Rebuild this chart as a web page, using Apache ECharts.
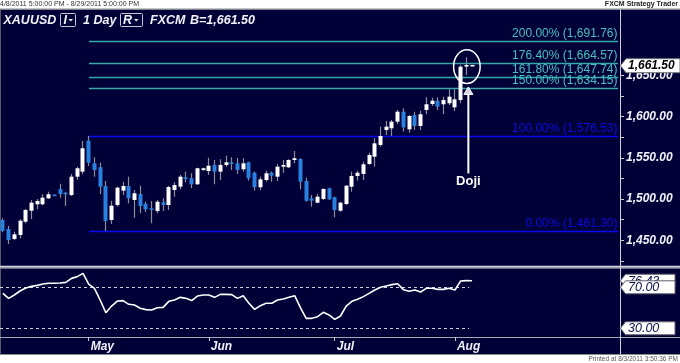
<!DOCTYPE html>
<html>
<head>
<meta charset="utf-8">
<script src="https://cdn.jsdelivr.net/npm/echarts/dist/echarts.min.js"></script>
<style>
  html, body { margin: 0; padding: 0; background: #ffffff; }
  #chart { width: 680px; height: 363px; }
</style>
</head>
<body>
<div id="chart"></div>
<script>
// ---------------- DATA ----------------
const dates = [
  '4/8','4/11','4/12','4/13','4/14','4/15','4/18','4/19','4/20','4/21','4/25','4/26','4/27','4/28','4/29',
  '5/2','5/3','5/4','5/5','5/6','5/9','5/10','5/11','5/12','5/13','5/16','5/17','5/18','5/19','5/20','5/23','5/24','5/25','5/26','5/27','5/31',
  '6/1','6/2','6/3','6/6','6/7','6/8','6/9','6/10','6/13','6/14','6/15','6/16','6/17','6/20','6/21','6/22','6/23','6/24','6/27','6/28','6/29','6/30',
  '7/1','7/4','7/5','7/6','7/7','7/8','7/11','7/12','7/13','7/14','7/15','7/18','7/19','7/20','7/21','7/22','7/25','7/26','7/27','7/28','7/29',
  '8/1','8/2','8/3','8/4'
];
const opens = [1474.7,1463.8,1451.6,1456.5,1472.6,1485.9,1493.7,1493.7,1500.9,1504.9,
  1512.2,1507.7,1504.9,1527.1,1533.2,1570.7,1543.3,1538.5,1515.8,1474.7,
  1492.8,1510.2,1515.8,1498.9,1506.1,1494.0,1488.8,1485.6,1496.1,1492.8,
  1511.0,1515.0,1526.4,1525.2,1517.9,1535.2,1534.0,1541.3,1533.2,1541.3,
  1544.5,1543.3,1536.1,1544.5,1531.9,1514.3,1523.1,1531.9,1527.1,1539.2,
  1538.5,1547.3,1548.5,1521.9,1500.9,1495.6,1500.1,1513.0,1502.2,1485.9,
  1494.0,1515.0,1528.0,1530.4,1542.5,1551.3,1565.5,1583.7,1585.7,1593.7,
  1605.8,1584.5,1601.8,1588.5,1607.9,1615.1,1619.1,1614.8,1616.0,1611.1,
  1620.0,1661.0,1661.5];
const closes = [1461.3,1450.4,1457.3,1473.8,1486.8,1495.6,1497.7,1501.7,1505.8,1504.1,
  1506.1,1505.8,1527.1,1537.3,1561.5,1544.0,1535.2,1515.0,1473.4,1492.0,
  1513.8,1515.8,1500.9,1507.0,1491.6,1487.6,1486.8,1496.8,1492.8,1514.6,
  1517.0,1527.1,1524.3,1517.9,1537.3,1537.3,1540.4,1533.2,1541.3,1544.5,
  1542.5,1535.2,1543.3,1525.2,1514.3,1523.9,1531.2,1528.3,1539.2,1541.3,
  1547.3,1549.4,1521.0,1498.0,1498.0,1502.9,1512.2,1499.7,1486.8,1495.6,
  1516.2,1528.0,1531.9,1542.1,1553.4,1567.5,1576.4,1587.7,1593.7,1605.8,
  1586.9,1600.6,1588.5,1602.7,1614.8,1619.1,1611.9,1620.0,1624.0,1620.8,
  1660.3,1661.8,1661.5];
const lows = [1459.8,1445.6,1450.4,1452.5,1470.7,1475.9,1487.6,1492.5,1500.1,1503.5,
  1501.7,1491.6,1503.7,1523.1,1530.0,1540.1,1527.1,1505.8,1461.3,1469.8,
  1490.8,1504.9,1494.9,1477.5,1482.8,1484.4,1470.7,1482.8,1485.6,1486.8,
  1502.9,1511.8,1520.3,1513.1,1517.0,1534.0,1529.2,1517.9,1523.1,1539.2,
  1535.2,1530.4,1533.2,1522.3,1510.2,1511.0,1521.0,1521.0,1521.9,1531.9,
  1537.6,1543.3,1511.8,1496.8,1490.8,1494.9,1498.9,1498.9,1478.0,1484.7,
  1492.8,1508.9,1522.3,1523.1,1541.3,1539.2,1563.4,1577.6,1576.4,1590.9,
  1581.6,1580.4,1583.7,1583.7,1602.7,1612.7,1607.9,1602.7,1613.9,1606.7,
  1616.0,1650.3,1661.2];
const highs = [1476.7,1467.4,1460.5,1475.5,1488.0,1498.9,1500.1,1505.8,1508.9,1505.5,
  1518.6,1508.9,1530.4,1539.2,1570.3,1576.5,1550.6,1544.0,1521.9,1498.0,
  1515.0,1521.0,1527.1,1511.0,1516.2,1496.8,1497.7,1498.9,1500.9,1515.8,
  1520.3,1529.2,1533.2,1531.2,1538.0,1538.0,1550.1,1547.3,1548.2,1552.5,
  1550.6,1549.8,1549.4,1545.3,1533.2,1527.1,1534.4,1533.2,1542.5,1547.3,
  1548.2,1558.2,1549.4,1525.9,1504.9,1506.1,1513.0,1514.0,1502.9,1496.8,
  1517.0,1533.2,1534.4,1545.3,1556.2,1573.6,1587.7,1594.6,1595.8,1607.9,
  1609.9,1601.8,1605.8,1607.0,1623.3,1622.8,1623.3,1624.0,1633.0,1633.0,
  1662.4,1671.7,1661.8];
const rsi = [64.1,59.2,62.5,66.4,69.3,70.9,71.9,73.2,73.9,73.9,
  74.2,74.8,78.7,80.4,83.6,73.2,69.0,57.6,45.2,51.7,
  56.6,57.0,53.4,52.7,49.5,48.2,47.8,50.1,50.4,56.3,
  57.6,60.2,59.2,57.0,61.5,62.5,62.5,60.2,63.1,63.1,
  62.8,59.2,61.8,54.4,48.5,52.1,54.4,54.4,57.6,58.6,
  60.2,61.8,50.1,39.7,39.7,41.3,45.6,43.0,38.7,42.0,
  51.7,56.3,58.3,60.9,64.1,67.4,70.0,71.3,72.6,73.5,
  67.7,66.1,67.4,65.4,69.0,69.0,68.0,68.0,69.0,67.4,
  76.1,76.5,76.43];
const fibPct = ['200.00%','176.40%','161.80%','150.00%','100.00%','0.00%'];
const fibVal = [1691.76, 1664.57, 1647.74, 1634.15, 1576.53, 1461.30];
const fibStartDate = '5/2';
const rsiLevels = [70, 30];
const lastPrice = 1661.50;
const lastRsi = 76.43;
const dojiDate = '8/3';
const monthNames = {'5':'May','6':'Jun','7':'Jul','8':'Aug'};
const symbolText = 'XAUUSD';
const periodText = '1 Day';
const brokerText = 'FXCM';

// ---------------- BUILD ----------------
const PAD = 25;
const CATS = dates.concat(Array.from({length: PAD}, (_, i) => 'pad' + i));
const NAVY = '#010138';
const FONT = "'Liberation Sans', Arial, sans-serif";
const monthOf = d => d.split('/')[0];
const isMonthStart = i => i > 0 && i < dates.length && monthOf(dates[i]) !== monthOf(dates[i - 1]);
const fmt2 = v => v.toFixed(2).replace(/\B(?=(\d{3})+(?!\d))/, ',');

const candleData = dates.map((d, i) => [i, opens[i], closes[i], lows[i], highs[i]]);
const fibStart = dates.indexOf(fibStartDate);
const fibData = fibVal.map((v, i) => [fibStart, v, i]);
const lastIdx = dates.length - 1;

const chart = echarts.init(document.getElementById('chart'), null, {renderer: 'canvas'});

const option = {
  backgroundColor: '#ffffff',
  animation: false,
  grid: [
    {left: 0, width: 618, top: 75.2, height: 185.8},
    {left: 0, width: 618, top: 269, height: 68}
  ],
  xAxis: [
    {type: 'category', gridIndex: 0, data: CATS, show: false, boundaryGap: true},
    {type: 'category', gridIndex: 1, data: CATS, boundaryGap: true,
      axisLine: {show: false},
      axisTick: {show: true, alignWithLabel: true, interval: (i) => isMonthStart(i), length: 4,
        lineStyle: {color: '#c8c8c8', width: 1}},
      axisLabel: {interval: (i) => isMonthStart(i), formatter: (v) => monthNames[monthOf(v)] || '',
        align: 'left', margin: 4, color: '#f2f2fa', fontStyle: 'italic', fontWeight: 'bold',
        fontSize: 12, fontFamily: FONT, padding: [0, 0, 0, 2]},
      splitLine: {show: false}}
  ],
  yAxis: [
    {type: 'value', gridIndex: 0, position: 'right', offset: 2, min: 1425, max: 1650, interval: 25,
      axisLine: {show: false},
      axisTick: {show: true, length: 4, lineStyle: {color: '#c8c8c8'}},
      axisLabel: {formatter: v => (v % 50 === 0 && v >= 1450) ? fmt2(v) : '',
        margin: 6, color: '#f2f2fa', fontStyle: 'italic', fontWeight: 'bold', fontSize: 12, fontFamily: FONT},
      splitLine: {show: false}},
    {type: 'value', gridIndex: 1, min: 21.5, max: 87.85, show: false, splitLine: {show: false}}
  ],
  series: [
    {
      name: 'fib', type: 'custom', xAxisIndex: 0, yAxisIndex: 0, clip: false, z: 2,
      data: fibData,
      renderItem: function (params, api) {
        const v = api.value(1), k = api.value(2);
        const p = api.coord([api.value(0), v]);
        const cs = params.coordSys;
        const x2 = cs.x + cs.width;
        const y = Math.round(p[1]) + 0.5;
        const teal = k < 4;
        const lc = teal ? '#36a9a9' : '#0a0af0';
        const tc = teal ? '#48c0c0' : '#0a0ae0';
        return {type: 'group', children: [
          {type: 'line', shape: {x1: Math.round(p[0]), y1: y, x2: x2, y2: y},
            style: {stroke: lc, lineWidth: 1.3}},
          {type: 'text', style: {text: fibPct[k] + ' (' + fmt2(v) + ')', x: x2 - 0.5, y: y - 1.5,
            fill: tc, font: '12px ' + FONT, align: 'right', verticalAlign: 'bottom',
            textAlign: 'right', textVerticalAlign: 'bottom'}}
        ]};
      }
    },
    {
      name: 'candles', type: 'custom', xAxisIndex: 0, yAxisIndex: 0, clip: false, z: 3,
      data: candleData,
      encode: {x: 0, y: [1, 2, 3, 4]},
      renderItem: function (params, api) {
        const i = api.value(0), o = api.value(1), c = api.value(2), l = api.value(3), h = api.value(4);
        const pO = api.coord([i, o]), pC = api.coord([i, c]), pL = api.coord([i, l]), pH = api.coord([i, h]);
        const cx = Math.round(pO[0] - 0.5);
        let top = Math.min(pO[1], pC[1]), bot = Math.max(pO[1], pC[1]);
        if (bot - top < 1.5) { const m = (top + bot) / 2; top = m - 0.8; bot = m + 0.8; }
        const up = c >= o;
        return {type: 'group', children: [
          {type: 'line', shape: {x1: cx + 0.5, y1: pH[1], x2: cx + 0.5, y2: pL[1]},
            style: {stroke: '#8e8e98', lineWidth: 1.2}},
          {type: 'rect', shape: {x: cx - 1.5, y: top, width: 4, height: bot - top},
            style: {fill: up ? '#ffffff' : '#2a80de'}}
        ]};
      }
    },
    {
      name: 'levels', type: 'custom', xAxisIndex: 1, yAxisIndex: 1, clip: false, z: 2,
      data: rsiLevels.map(v => [0, v]),
      renderItem: function (params, api) {
        const p = api.coord([lastIdx - 1, api.value(1)]);
        const q = api.coord([lastIdx, api.value(1)]);
        const cs = params.coordSys;
        const y = Math.round(p[1]) + 0.5;
        return {type: 'line', shape: {x1: cs.x, y1: y, x2: (p[0] + q[0]) / 2, y2: y},
          style: {stroke: '#d0d0d8', lineWidth: 1, lineDash: [3, 3]}};
      }
    },
    {
      name: 'RSI', type: 'line', xAxisIndex: 1, yAxisIndex: 1, data: rsi, z: 4,
      symbol: 'none', smooth: false,
      lineStyle: {color: '#ffffff', width: 1.6}
    }
  ]
};
chart.setOption(option);

// ---------------- ANNOTATIONS (positioned through the axes) ----------------
const py = v => chart.convertToPixel({yAxisIndex: 0}, v);
const ry = v => chart.convertToPixel({yAxisIndex: 1}, v);
const px = i => chart.convertToPixel({xAxisIndex: 0}, CATS[i]);

const G = [];
G.push({type: 'rect', z: -10, silent: true, shape: {x: 0, y: 9.5, width: 680, height: 345.5}, style: {fill: NAVY}});
G.push({type: 'line', z: -9, silent: true, shape: {x1: 0, y1: 9, x2: 680, y2: 9}, style: {stroke: '#8a8a8a', lineWidth: 1}});
G.push({type: 'line', z: -9, silent: true, shape: {x1: 0, y1: 354.5, x2: 680, y2: 354.5}, style: {stroke: '#8a8a8a', lineWidth: 1}});
G.push({type: 'line', z: -9, silent: true, shape: {x1: 0.5, y1: 9.5, x2: 0.5, y2: 354.5}, style: {stroke: '#5a5a6a', lineWidth: 1}});
G.push({type: 'rect', z: -9, silent: true, shape: {x: 0, y: 265.8, width: 680, height: 2}, style: {fill: '#d4d4dc'}});
G.push({type: 'line', z: -9, silent: true, shape: {x1: 0, y1: 268.5, x2: 680, y2: 268.5}, style: {stroke: '#6a6a7a', lineWidth: 1}});
G.push({type: 'line', z: -9, silent: true, shape: {x1: 0, y1: 337.5, x2: 680, y2: 337.5}, style: {stroke: '#a8a8b0', lineWidth: 1}});
G.push({type: 'line', z: -9, silent: true, shape: {x1: 620.5, y1: 9.5, x2: 620.5, y2: 354.5}, style: {stroke: '#d0d0d8', lineWidth: 1}});

G.push({type: 'text', z: 5, style: {text: '4/8/2011 5:00:00 PM - 8/29/2011 5:00:00 PM', x: 0, y: 4.5,
  fill: '#333333', font: '7px ' + FONT, align: 'left', verticalAlign: 'middle', textAlign: 'left', textVerticalAlign: 'middle'}});
G.push({type: 'text', z: 5, style: {text: 'FXCM Strategy Trader', x: 678, y: 4.5,
  fill: '#222222', font: 'bold 7px ' + FONT, align: 'right', verticalAlign: 'middle', textAlign: 'right', textVerticalAlign: 'middle'}});
G.push({type: 'text', z: 5, style: {text: 'Printed at 8/3/2011 3:50:36 PM', x: 678, y: 359,
  fill: '#555555', font: '6.5px ' + FONT, align: 'right', verticalAlign: 'middle', textAlign: 'right', textVerticalAlign: 'middle'}});

const HF = 'italic bold 12.5px ' + FONT;
function htext(t, x) {
  G.push({type: 'text', z: 5, style: {text: t, x: x, y: 21, fill: '#f2f2fa', font: HF,
    align: 'left', verticalAlign: 'middle', textAlign: 'left', textVerticalAlign: 'middle'}});
}
htext(symbolText, 3.5);
G.push({type: 'rect', z: 5, shape: {x: 60.5, y: 13.5, width: 15, height: 13, r: 1}, style: {fill: 'none', stroke: '#c8c8d8', lineWidth: 1}});
htext('I', 63.5);
G.push({type: 'polygon', z: 5, shape: {points: [[68.5, 19], [73, 19], [70.75, 21.5]]}, style: {fill: '#f2f2fa'}});
htext(periodText, 83);
G.push({type: 'rect', z: 5, shape: {x: 120.5, y: 13.5, width: 22, height: 13, r: 1}, style: {fill: 'none', stroke: '#c8c8d8', lineWidth: 1}});
htext('R', 123);
G.push({type: 'polygon', z: 5, shape: {points: [[134, 19], [138.5, 19], [136.25, 21.5]]}, style: {fill: '#f2f2fa'}});
htext(brokerText, 150);
htext('B=' + fmt2(lastPrice), 190);

const yp = py(lastPrice);
G.push({type: 'polygon', z: 20, shape: {points: [[620.5, yp], [626, yp - 7], [680, yp - 7], [680, yp + 7], [626, yp + 7]]},
  style: {fill: '#ffffff', stroke: '#707078', lineWidth: 1}});
G.push({type: 'text', z: 21, style: {text: fmt2(lastPrice), x: 628, y: yp, fill: '#000000', font: 'italic bold 12px ' + FONT,
  align: 'left', verticalAlign: 'middle', textAlign: 'left', textVerticalAlign: 'middle'}});

function rtag(v) {
  const y = ry(v);
  G.push({type: 'polygon', z: 20, shape: {points: [[620.5, y], [625.5, y - 6.5], [675, y - 6.5], [675, y + 6.5], [625.5, y + 6.5]]},
    style: {fill: '#ffffff', stroke: '#606070', lineWidth: 1}});
  G.push({type: 'text', z: 20, style: {text: v.toFixed(2), x: 628, y: y + 0.5, fill: '#10104a', font: 'italic 12.5px ' + FONT,
    align: 'left', verticalAlign: 'middle', textAlign: 'left', textVerticalAlign: 'middle'}});
}
rtag(lastRsi);
rsiLevels.forEach(rtag);

const di = dates.indexOf(dojiDate);
const dx = px(di);
const dyTop = py(highs[di]), dyBot = py(lows[di]);
const ecy = (dyTop + dyBot) / 2 + 0.5;
G.push({type: 'ellipse', z: 15, shape: {cx: dx + 0.5, cy: ecy, rx: 13.3, ry: 16.8}, style: {fill: 'none', stroke: '#ffffff', lineWidth: 1.5}});
const tipY = ecy + 20.3;
const ax = dx + 2;
G.push({type: 'line', z: 15, shape: {x1: ax, y1: tipY + 7, x2: ax, y2: tipY + 86.5}, style: {stroke: '#ffffff', lineWidth: 2}});
G.push({type: 'polygon', z: 16, shape: {points: [[ax, tipY], [ax + 4.5, tipY + 7.5], [ax - 4.5, tipY + 7.5]]},
  style: {fill: '#d8d8e0', stroke: '#ffffff', lineWidth: 1}});
G.push({type: 'text', z: 16, style: {text: 'Doji', x: ax, y: tipY + 95, fill: '#ffffff', font: 'bold 13px ' + FONT,
  align: 'center', verticalAlign: 'middle', textAlign: 'center', textVerticalAlign: 'middle'}});

chart.setOption({graphic: {elements: G}});
</script>
</body>
</html>
